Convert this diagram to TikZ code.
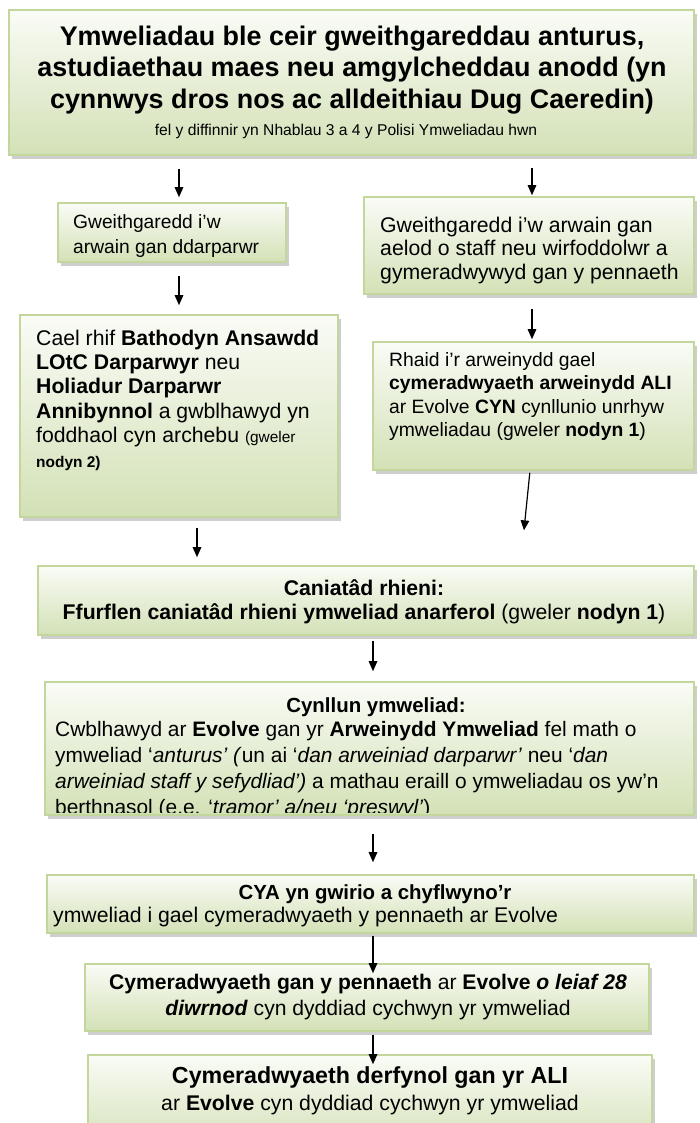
\documentclass[tikz,border=0pt]{standalone}
\usepackage{fontspec}
\setmainfont{Liberation Sans}
\usetikzlibrary{positioning,arrows.meta,shadows,fit,calc}
\definecolor{LOtCgreen}{HTML}{D3E1B6}
\definecolor{LOtCedge}{HTML}{C3D69B}
\newcommand{\bodyfont}{\fontsize{21.3}{24.5}\selectfont}
\newcommand{\notefont}{\fontsize{15.5}{18}\selectfont}
\tikzset{
  stage/.style={draw=LOtCedge,line width=1.6bp,top color=LOtCgreen!12,bottom color=LOtCgreen,inner sep=0pt,
    drop shadow={shadow xshift=3bp,shadow yshift=-3.5bp,fill=black!38}},
  txt/.style={inner sep=0pt,align=left,font=\bodyfont},
  ctxt/.style={inner sep=0pt,align=center,font=\bodyfont},
  headtxt/.style={inner sep=0pt,font={\bfseries\fontsize{20.5}{24}\selectfont}},
  flow/.style={-{Triangle[length=10bp,width=8.5bp]},line width=1.2bp}
}

\begin{document}
\begin{tikzpicture}[x=1bp,y=-1bp]
\useasboundingbox (0,0) rectangle (700,1123);
\clip (0,0) rectangle (700,1123);

% top box
\node[stage, fit={(9,10) (694,155)}] (visit) {};
\node[ctxt, font={\bfseries\fontsize{27}{31.5}\selectfont}] (visitT) at (352,70)
  {Ymweliadau ble ceir gweithgareddau anturus,\\astudiaethau maes neu amgylcheddau anodd (yn\\cynnwys dros nos ac alldeithiau Dug Caeredin)};
\node[ctxt, font={\fontsize{15.7}{19}\selectfont}] (visitS) at (346,131)
  {fel y diffinnir yn Nhablau 3 a 4 y Polisi Ymweliadau hwn};

% left column
\node[stage, fit={(58,203) (286,262)}] (provider) {};
\node[txt, font={\fontsize{19.3}{25}\selectfont}, anchor=north west] (providerT) at (73,214.3)
  {Gweithgaredd i’w\\arwain gan ddarparwr};
\node[stage, fit={(20,315) (338,517)}] (badge) {};
\node[txt, anchor=north west] (badgeT) at (36,329.5)
  {Cael rhif \textbf{Bathodyn Ansawdd}\\\textbf{LOtC Darparwyr} neu\\\textbf{Holiadur Darparwr}\\\textbf{Annibynnol} a gwblhawyd yn\\foddhaol cyn archebu {\notefont(gweler}\\{\notefont\textbf{nodyn 2)}}};

% right column
\node[stage, fit={(364,197) (694,294)}] (staff) {};
\node[txt, font={\fontsize{21.3}{24}\selectfont}, anchor=north west] (staffT) at (380,216.5)
  {Gweithgaredd i’w arwain gan\\aelod o staff neu wirfoddolwr a\\gymeradwywyd gan y pennaeth};
\node[stage, fit={(373,342) (694,470)}] (leader) {};
\node[txt, font={\fontsize{19.4}{23.5}\selectfont}, anchor=north west] (leaderT) at (389,352)
  {Rhaid i’r arweinydd gael\\\textbf{cymeradwyaeth arweinydd ALI}\\ar Evolve \textbf{CYN} cynllunio unrhyw\\ymweliadau (gweler \textbf{nodyn 1})};

% consent
\node[stage, fit={(38,566) (694,635)}] (consent) {};
\node[ctxt, font={\fontsize{21.3}{24}\selectfont}] (consentT) at (364,602)
  {\textbf{Caniatâd rhieni:}\\\textbf{Ffurflen caniatâd rhieni ymweliad anarferol} (gweler \textbf{nodyn 1})};

% visit plan
\node[stage, fit={(45,682) (694,815)}] (plan) {};
\node[headtxt] (planH) at (376,707) {Cynllun ymweliad:};
\begin{scope}
\clip (plan.north west) rectangle ([yshift=3bp]plan.south east);
\node[txt, font={\fontsize{21}{25.8}\selectfont}, anchor=north west] (planT) at (55,721.6)
  {Cwblhawyd ar \textbf{Evolve} gan yr \textbf{Arweinydd Ymweliad} fel math o\\ymweliad ‘\textit{anturus’ (}un ai ‘\textit{dan arweiniad darparwr’} neu ‘\textit{dan}\\\textit{arweiniad staff y sefydliad’)} a mathau eraill o ymweliadau os yw’n\\berthnasol (e.e. ‘\textit{tramor’ a/neu ‘preswyl’})};
\end{scope}

% check and approvals
\node[stage, fit={(47,875) (694,933)}] (check) {};
\node[headtxt] (checkH) at (375,894) {CYA yn gwirio a chyflwyno’r};
\node[txt, anchor=west] (checkT) at (53,917) {ymweliad i gael cymeradwyaeth y pennaeth ar Evolve};
\node[stage, fit={(85,964) (649,1031)}] (head) {};
\node[ctxt, font={\fontsize{21.2}{26}\selectfont}] (headT) at (368,997)
  {\textbf{Cymeradwyaeth gan y pennaeth} ar \textbf{Evolve \textit{o leiaf 28}}\\\textbf{\textit{diwrnod}} cyn dyddiad cychwyn yr ymweliad};
\node[stage, fit={(88,1055) (652,1150)}] (final) {};
\node[ctxt, font={\fontsize{21.3}{27}\selectfont}] (finalT) at (370,1090.5)
  {{\fontsize{23.3}{27}\selectfont\textbf{Cymeradwyaeth derfynol gan yr ALI}}\\ar \textbf{Evolve} cyn dyddiad cychwyn yr ymweliad};

% arrows
\draw[flow, shorten <=13bp, shorten >=5bp] ($(visit.south -| provider.north)+(7,0)$) -- ($(provider.north)+(7,0)$);
\draw[flow, shorten <=13bp, shorten >=9bp] ($(provider.south)+(7,0)$) -- ($(badge.north -| provider.south)+(7,0)$);
\draw[flow, shorten <=12bp, shorten >=1bp] ($(visit.south -| staff.north)+(3,0)$) -- ($(staff.north)+(3,0)$);
\draw[flow, shorten <=14bp, shorten >=2bp] ($(staff.south)+(3,0)$) -- ($(leader.north -| staff.south)+(3,0)$);
\draw[flow, shorten <=2bp, shorten >=35bp] ($(leader.south)+(-3.5,0)$) -- ($(consent.north)+(154.4,0)$);
\draw[flow, shorten <=10bp, shorten >=8bp] ($(badge.south)+(18,0)$) -- ($(consent.north -| badge.south)+(18,0)$);
\draw[flow, shorten <=5bp, shorten >=10bp] ($(consent.south)+(7,0)$) -- ($(plan.north -| consent.south)+(7,0)$);
\draw[flow, shorten <=18bp, shorten >=12bp] ($(plan.south)+(3.5,0)$) -- ($(check.north -| plan.south)+(3.5,0)$);
\draw[flow, shorten <=2bp, shorten >=-10bp] ($(check.south)+(2.5,0)$) -- ($(head.north -| check.south)+(2.5,0)$);
\draw[flow, shorten <=3bp, shorten >=-10bp] ($(head.south)+(6,0)$) -- ($(final.north -| head.south)+(6,0)$);
\end{tikzpicture}
\end{document}
